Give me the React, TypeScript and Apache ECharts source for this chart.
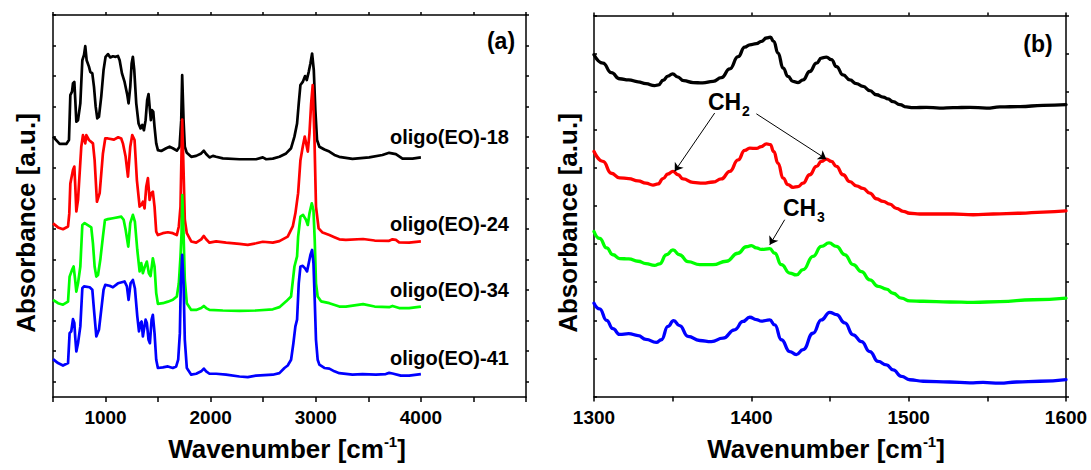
import React, { useEffect, useRef } from 'react';
import * as echarts from 'echarts';

// ---------- DATA ----------
const seriesNames = ['oligo(EO)-18', 'oligo(EO)-24', 'oligo(EO)-34', 'oligo(EO)-41'];
const seriesColors = ['#000000', '#ff0000', '#00ff00', '#0000ff'];

const leftTickLabels = [1000, 2000, 3000, 4000];
const rightTickLabels = [1300, 1400, 1500, 1600];
const leftYTicks = [0.5, 1.5, 2.5, 3.5, 4.5, 5.5, 6.5, 7.5, 8.5, 9.5, 10.5, 11.5, 12.5];

// Panel (a): full spectra, [wavenumber, absorbance (a.u., stacked)]
const eo18Full: [number, number][] = [
  [500, 8.52], [563, 8.28], [627, 8.28], [652, 8.41], [665, 9.88], [681, 9.99], [690, 10.26], [703, 10.31],
  [712, 9.72], [722, 9.01], [738, 9.06], [760, 9.61], [779, 11.02], [795, 11.19], [807, 11.48], [820, 11.02],
  [842, 10.81], [855, 10.64], [874, 10.59], [890, 10.15], [906, 9.5], [921, 9.12], [937, 9.17], [959, 9.83],
  [981, 10.7], [1000, 11.13], [1023, 11.22], [1045, 11.11], [1070, 11.15], [1096, 11.13], [1118, 11.16],
  [1134, 11.02], [1156, 10.59], [1181, 10.31], [1207, 9.88], [1219, 9.61], [1235, 10.15], [1248, 10.91],
  [1260, 11.13], [1273, 10.7], [1292, 9.61], [1314, 8.95], [1333, 8.79], [1349, 8.9], [1365, 8.73],
  [1381, 9.06], [1396, 9.72], [1409, 9.91], [1422, 9.39], [1431, 9.06], [1441, 9.39], [1454, 9.33],
  [1466, 8.84], [1482, 8.3], [1498, 8.08], [1530, 8.05], [1577, 8.14], [1609, 8.19], [1640, 8.14],
  [1678, 8.06], [1704, 8.19], [1720, 9.06], [1729, 10.53], [1742, 9.06], [1754, 8.19], [1773, 7.99],
  [1815, 7.86], [1862, 7.89], [1910, 7.97], [1935, 8.06], [1957, 7.95], [1989, 7.84], [2021, 7.89],
  [2052, 7.86], [2116, 7.81], [2274, 7.78], [2432, 7.78], [2496, 7.84], [2528, 7.78], [2591, 7.8],
  [2654, 7.86], [2718, 7.97], [2765, 8.14], [2797, 8.52], [2822, 8.95], [2838, 9.61], [2854, 10.21],
  [2876, 10.31], [2898, 10.5], [2914, 10.37], [2933, 10.64], [2949, 10.91], [2965, 11.24], [2981, 10.7],
  [2996, 9.39], [3012, 8.41], [3034, 8.19], [3082, 8.1], [3129, 8.03], [3177, 7.92], [3223, 7.86],
  [3349, 7.79], [3508, 7.84], [3634, 7.92], [3698, 7.99], [3762, 7.95], [3825, 7.8], [3920, 7.8], [4000, 7.84],
];

const eo24Full: [number, number][] = [
  [500, 5.68], [548, 5.55], [595, 5.49], [643, 5.58], [655, 6.0], [665, 6.99], [690, 7.43], [703, 7.54],
  [712, 6.9], [722, 6.07], [738, 6.45], [769, 8.19], [785, 8.57], [807, 8.3], [817, 8.57], [842, 8.41],
  [880, 8.3], [896, 7.75], [918, 6.39], [944, 6.67], [975, 7.97], [997, 8.46], [1023, 8.46], [1080, 8.42],
  [1120, 8.5], [1149, 8.46], [1165, 8.3], [1191, 7.86], [1213, 7.21], [1235, 8.19], [1254, 8.57],
  [1276, 8.41], [1298, 7.1], [1324, 6.23], [1340, 6.28], [1355, 6.39], [1371, 6.17], [1387, 6.88],
  [1403, 7.16], [1419, 6.45], [1434, 6.67], [1450, 6.72], [1466, 6.23], [1482, 5.41], [1498, 5.3],
  [1545, 5.36], [1593, 5.39], [1640, 5.36], [1678, 5.3], [1697, 5.58], [1713, 6.23], [1729, 9.08],
  [1742, 7.43], [1754, 5.8], [1773, 5.36], [1815, 5.09], [1862, 5.05], [1910, 5.16], [1935, 5.27],
  [1957, 5.16], [1989, 5.05], [2052, 5.09], [2147, 5.05], [2274, 5.01], [2353, 4.98], [2432, 5.03],
  [2496, 5.08], [2591, 5.05], [2654, 5.1], [2733, 5.25], [2781, 5.58], [2806, 6.01], [2832, 6.67],
  [2854, 7.75], [2876, 8.19], [2895, 8.52], [2908, 8.3], [2924, 8.03], [2940, 8.63], [2956, 9.61],
  [2971, 10.21], [2987, 8.52], [3002, 6.23], [3027, 5.52], [3065, 5.38], [3129, 5.3], [3177, 5.23],
  [3224, 5.16], [3286, 5.14], [3450, 5.17], [3560, 5.12], [3698, 5.11], [3730, 5.16], [3762, 5.14],
  [3793, 5.06], [3888, 5.05], [4000, 5.09],
];

const eo34Full: [number, number][] = [
  [500, 3.18], [548, 3.07], [595, 3.02], [643, 3.12], [658, 3.94], [681, 4.16], [696, 4.27], [709, 3.89],
  [722, 3.45], [738, 3.72], [760, 4.27], [779, 5.63], [801, 5.69], [842, 5.6], [864, 5.55], [880, 5.03],
  [896, 4.27], [912, 3.94], [928, 3.99], [950, 4.49], [975, 5.25], [994, 5.79], [1023, 5.82], [1070, 5.85],
  [1150, 5.9], [1172, 5.8], [1191, 5.47], [1216, 4.92], [1235, 5.69], [1260, 5.96], [1279, 5.74],
  [1302, 4.81], [1324, 4.11], [1340, 4.38], [1355, 4.05], [1374, 4.27], [1393, 4.43], [1412, 4.05],
  [1428, 3.96], [1450, 4.54], [1466, 4.27], [1482, 3.4], [1498, 3.05], [1545, 3.07], [1593, 3.12],
  [1640, 3.18], [1678, 3.29], [1697, 3.72], [1713, 4.6], [1723, 5.36], [1730, 6.61], [1742, 5.36],
  [1754, 3.83], [1773, 3.07], [1815, 2.85], [1862, 2.85], [1910, 2.91], [1935, 2.98], [1957, 2.91],
  [1989, 2.85], [2116, 2.83], [2274, 2.82], [2432, 2.83], [2591, 2.87], [2654, 2.94], [2718, 3.13],
  [2765, 3.29], [2797, 4.27], [2822, 4.6], [2832, 5.25], [2854, 5.9], [2879, 5.96], [2908, 5.79],
  [2924, 5.63], [2940, 6.01], [2962, 6.34], [2978, 6.12], [2990, 5.14], [3002, 3.72], [3018, 3.29],
  [3050, 3.13], [3129, 3.07], [3224, 2.96], [3286, 2.96], [3450, 3.04], [3560, 2.96], [3698, 2.94],
  [3730, 2.98], [3793, 2.91], [3888, 2.91], [4000, 2.96],
];

const eo41Full: [number, number][] = [
  [500, 1.24], [548, 1.11], [595, 1.03], [643, 1.11], [658, 2.09], [674, 2.15], [690, 2.55], [703, 2.42],
  [712, 1.93], [722, 1.49], [738, 1.76], [760, 2.31], [779, 3.56], [795, 3.62], [849, 3.59], [874, 3.51],
  [890, 2.85], [912, 1.98], [937, 2.2], [959, 2.85], [981, 3.51], [997, 3.67], [1038, 3.64], [1070, 3.59],
  [1118, 3.72], [1181, 3.78], [1203, 3.62], [1219, 3.18], [1238, 3.72], [1260, 3.83], [1279, 3.56],
  [1302, 2.64], [1318, 2.15], [1333, 2.42], [1343, 2.47], [1355, 1.98], [1365, 2.2], [1381, 2.53],
  [1393, 2.42], [1409, 1.87], [1422, 1.76], [1438, 2.53], [1450, 2.69], [1466, 2.09], [1482, 1.22],
  [1498, 0.95], [1545, 0.97], [1593, 1.0], [1640, 0.95], [1672, 1.0], [1691, 1.22], [1707, 2.09],
  [1716, 3.72], [1729, 4.65], [1742, 3.72], [1754, 1.87], [1773, 0.95], [1815, 0.73], [1862, 0.76],
  [1910, 0.84], [1935, 0.93], [1957, 0.84], [1989, 0.76], [2052, 0.76], [2147, 0.73], [2274, 0.67],
  [2353, 0.65], [2432, 0.7], [2591, 0.73], [2654, 0.78], [2702, 0.95], [2733, 1.03], [2765, 1.22],
  [2787, 1.76], [2806, 2.31], [2822, 2.53], [2838, 3.72], [2854, 4.27], [2876, 4.29], [2898, 4.21],
  [2917, 4.11], [2933, 4.38], [2949, 4.65], [2965, 4.81], [2978, 4.38], [2990, 3.18], [3002, 1.87],
  [3018, 1.22], [3034, 1.06], [3082, 0.95], [3129, 0.93], [3177, 0.84], [3224, 0.78], [3349, 0.73],
  [3445, 0.75], [3571, 0.73], [3666, 0.75], [3698, 0.79], [3730, 0.77], [3809, 0.7], [3888, 0.7], [4000, 0.75],
];

// Panel (b): 1300-1600 cm-1 detail
const eo18Zoom: [number, number][] = [
  [1300, 8.97], [1305.7, 8.75], [1311, 8.5], [1316.3, 8.34], [1322, 8.31], [1328, 8.26], [1333, 8.21],
  [1338.5, 8.16], [1341, 8.18], [1344, 8.3], [1347, 8.41], [1350, 8.47], [1353, 8.39], [1357, 8.29],
  [1363, 8.24], [1369, 8.23], [1375.7, 8.27], [1381, 8.37], [1386.3, 8.6], [1391.6, 8.92],
  [1395.8, 9.17], [1399, 9.23], [1403.2, 9.26], [1406.4, 9.32], [1409.6, 9.41], [1412.1, 9.43],
  [1414.2, 9.32], [1417, 9.01], [1420.2, 8.62], [1423.3, 8.4], [1426.5, 8.27], [1429.7, 8.24],
  [1432.9, 8.31], [1437.1, 8.53], [1441.4, 8.75], [1444.5, 8.88], [1447.7, 8.91], [1450.9, 8.84],
  [1454.1, 8.66], [1458.3, 8.44], [1462.6, 8.31], [1466.8, 8.21], [1471, 8.14], [1475.3, 8.03],
  [1479.5, 7.92], [1483.8, 7.86], [1486.9, 7.81], [1490.1, 7.74], [1494.4, 7.66], [1498.6, 7.6],
  [1502.8, 7.58], [1511.3, 7.59], [1519.8, 7.57], [1528.3, 7.58], [1538.9, 7.59], [1549.5, 7.57],
  [1558, 7.6], [1570.7, 7.61], [1585.5, 7.64], [1600, 7.66],
];

const eo24Zoom: [number, number][] = [
  [1300, 6.43], [1305.7, 6.17], [1311, 5.86], [1316.3, 5.74], [1322, 5.72], [1328, 5.66], [1333, 5.6],
  [1337.5, 5.55], [1340.7, 5.58], [1343.9, 5.72], [1347, 5.84], [1350.2, 5.91], [1353.4, 5.82],
  [1356.6, 5.71], [1362.9, 5.62], [1369.3, 5.6], [1375.7, 5.63], [1381, 5.71], [1386.3, 5.91],
  [1391.6, 6.21], [1395.8, 6.46], [1399, 6.52], [1403.2, 6.51], [1406.4, 6.56], [1409.6, 6.63],
  [1412.1, 6.61], [1414.2, 6.43], [1417, 6.12], [1420.2, 5.73], [1423.3, 5.56], [1426.5, 5.49],
  [1429.7, 5.51], [1432.9, 5.6], [1437.1, 5.82], [1441.4, 6.04], [1444.5, 6.17], [1447.7, 6.23],
  [1450.9, 6.17], [1454.1, 6.04], [1458.3, 5.82], [1462.6, 5.64], [1466.8, 5.53], [1471, 5.46],
  [1475.3, 5.34], [1479.5, 5.19], [1483.8, 5.12], [1488, 5.05], [1492.2, 4.94], [1496.5, 4.86],
  [1500.7, 4.81], [1507.1, 4.79], [1517.7, 4.79], [1528.3, 4.79], [1541, 4.77], [1553.7, 4.79],
  [1570.7, 4.81], [1585.5, 4.84], [1600, 4.87],
];

const eo34Zoom: [number, number][] = [
  [1300, 4.33], [1303.6, 4.15], [1308, 3.9], [1312, 3.72], [1316.3, 3.62], [1322, 3.61], [1328, 3.55],
  [1333, 3.49], [1338.5, 3.44], [1341.7, 3.48], [1346, 3.72], [1350.2, 3.85], [1354.4, 3.72],
  [1359.7, 3.54], [1367.2, 3.46], [1375.6, 3.46], [1384.1, 3.55], [1391.5, 3.76], [1396.8, 3.93],
  [1400, 3.96], [1403.2, 3.9], [1406.4, 3.86], [1411.7, 3.88], [1414.9, 3.76], [1419.1, 3.46],
  [1424.4, 3.24], [1428.6, 3.19], [1432.9, 3.33], [1439.2, 3.68], [1444.5, 3.94], [1449.4, 4.03],
  [1454.1, 3.94], [1459.4, 3.72], [1464.7, 3.46], [1470, 3.28], [1475.3, 3.06], [1480.6, 2.89],
  [1485.9, 2.82], [1490.1, 2.71], [1495.4, 2.58], [1500.7, 2.51], [1509.2, 2.5], [1526.1, 2.48],
  [1541, 2.47], [1557.9, 2.49], [1579.1, 2.54], [1600, 2.58],
];

const eo41Zoom: [number, number][] = [
  [1300, 2.45], [1303.6, 2.3], [1308, 2.0], [1312, 1.78], [1316.3, 1.63], [1322, 1.65], [1328, 1.6],
  [1333, 1.5], [1339.6, 1.42], [1342.8, 1.49], [1347, 1.84], [1350.6, 1.99], [1354.4, 1.86],
  [1359.7, 1.58], [1367.2, 1.47], [1374.6, 1.44], [1382, 1.53], [1389.4, 1.75], [1394.7, 1.97],
  [1399, 2.08], [1403.2, 2.02], [1406.4, 1.98], [1411.7, 2.01], [1414.9, 1.88], [1419.1, 1.49],
  [1424.4, 1.18], [1428.6, 1.1], [1432.9, 1.23], [1439.2, 1.66], [1444.5, 2.01], [1449.8, 2.21],
  [1454.1, 2.15], [1459.4, 1.93], [1464.7, 1.62], [1470, 1.44], [1475.3, 1.18], [1480.6, 0.92],
  [1485.9, 0.83], [1490.1, 0.7], [1495.4, 0.53], [1500.7, 0.44], [1509.2, 0.4], [1526.1, 0.38],
  [1538.9, 0.36], [1547.3, 0.37], [1557.9, 0.35], [1568.5, 0.38], [1583.4, 0.4], [1600, 0.44],
];

// Annotation arrows in panel (b): [fromX, fromY, toX, toY]
const ch2Arrows: number[][] = [
  [1376.7, 7.44, 1351.3, 5.91],
  [1403.2, 7.42, 1447.7, 6.23],
];
const ch3Arrows: number[][] = [[1421.2, 4.64, 1411.7, 3.98]];

const fullSeries = [eo18Full, eo24Full, eo34Full, eo41Full];
const zoomSeries = [eo18Zoom, eo24Zoom, eo34Zoom, eo41Zoom];

const FONT = "'Liberation Sans', Arial, Helvetica, sans-serif";

export default function App() {
  const ref = useRef<HTMLDivElement>(null);

  useEffect(() => {
    document.body.style.margin = '0';
    const chart = echarts.init(ref.current as HTMLDivElement, null, { renderer: 'svg' });

    const lineCol = { color: '#000', width: 1.5 };
    const xAxis = (grid: number, pos: string, min: number, max: number, interval: number, labels: number[] | null, tickLen: number) => ({
      type: 'value',
      gridIndex: grid,
      position: pos,
      min,
      max,
      interval,
      axisLine: { show: true, onZero: false, lineStyle: lineCol },
      axisTick: { show: true, inside: false, length: tickLen, lineStyle: lineCol },
      axisLabel: labels
        ? {
            show: true,
            customValues: labels,
            formatter: (v: number) => (labels.indexOf(v) >= 0 ? String(v) : ''),
            color: '#000',
            fontSize: 19,
            fontWeight: 'bold',
            fontFamily: FONT,
            margin: 11,
          }
        : { show: false },
      splitLine: { show: false },
    });
    const yAxis = (grid: number, pos: string, min: number, max: number, inside: boolean, ticks: number[] | null, interval?: number) => ({
      type: 'value',
      gridIndex: grid,
      position: pos,
      min,
      max,
      interval,
      axisLine: { show: true, onZero: false, lineStyle: lineCol },
      axisTick: ticks
        ? { show: true, inside, length: 3, customValues: ticks, lineStyle: lineCol }
        : { show: true, inside, length: 3, lineStyle: lineCol },
      axisLabel: { show: false },
      splitLine: { show: false },
    });

    const series: any[] = [];
    fullSeries.forEach((d, i) => {
      series.push({
        type: 'line',
        name: seriesNames[i],
        xAxisIndex: 0,
        yAxisIndex: 0,
        data: d,
        symbol: 'none',
        silent: true,
        lineStyle: { color: seriesColors[i], width: 2.7, join: 'round' },
        itemStyle: { color: seriesColors[i] },
        emphasis: { disabled: true },
      });
    });
    zoomSeries.forEach((d, i) => {
      const s: any = {
        type: 'line',
        name: seriesNames[i],
        xAxisIndex: 2,
        yAxisIndex: 2,
        data: d,
        symbol: 'none',
        silent: true,
        smooth: 0.5,
        smoothMonotone: 'x',
        lineStyle: { color: seriesColors[i], width: 3.3, join: 'round', cap: 'round' },
        itemStyle: { color: seriesColors[i] },
        emphasis: { disabled: true },
      };
      if (i === 1) {
        s.markLine = {
          silent: true,
          symbol: ['none', 'arrow'],
          symbolSize: 8,
          label: { show: false },
          emphasis: { disabled: true },
          lineStyle: { color: '#000', width: 1, type: 'solid' },
          data: ch2Arrows.concat(ch3Arrows).map((a) => [
            { coord: [a[0], a[1]] },
            { coord: [a[2], a[3]] },
          ]),
        };
      }
      series.push(s);
    });

    const boldText = (text: string, x: number, y: number, size: number, align = 'center', rotation = 0) => ({
      type: 'text',
      x,
      y,
      rotation,
      silent: true,
      style: {
        text,
        fill: '#000',
        fontSize: size,
        fontWeight: 'bold',
        fontFamily: FONT,
        align,
        verticalAlign: 'middle',
      },
    });
    const xTitle = (x: number) => ({
      type: 'text',
      x,
      y: 449,
      silent: true,
      style: {
        text: '{a|Wavenumber [cm}{b|-1}{a|]}',
        align: 'center',
        verticalAlign: 'middle',
        fill: '#000',
        rich: {
          a: { fontSize: 26, fontWeight: 'bold', fontFamily: FONT, lineHeight: 30, fill: '#000' },
          b: { fontSize: 15, fontWeight: 'bold', fontFamily: FONT, lineHeight: 15, verticalAlign: 'top', fill: '#000' },
        },
      },
    });

    const labelY = [136.7, 224.3, 290, 358.3];

    chart.setOption({
      animation: false,
      backgroundColor: '#ffffff',
      grid: [
        { left: 53, top: 15, width: 473, height: 382 },
        { left: 594, top: 15.5, width: 472, height: 381 },
      ],
      xAxis: [
        xAxis(0, 'bottom', 500, 5000, 500, leftTickLabels, 5),
        xAxis(0, 'top', 500, 5000, 500, null, 3),
        xAxis(1, 'bottom', 1300, 1600, 50, rightTickLabels, 5),
        xAxis(1, 'top', 1300, 1600, 50, null, 3),
      ],
      yAxis: [
        yAxis(0, 'left', 0, 12.5, true, leftYTicks),
        yAxis(0, 'right', 0, 12.5, false, leftYTicks),
        yAxis(1, 'left', 0, 10, true, null, 1),
        yAxis(1, 'right', 0, 10, false, null, 1),
      ],
      series,
      graphic: [
        boldText('(a)', 501, 41, 23),
        boldText('(b)', 1038, 44, 23),
        ...seriesNames.map((n, i) => boldText(n, 390, labelY[i], 20, 'left')),
        boldText('Absorbance [a.u.]', 26, 223, 26, 'center', Math.PI / 2),
        boldText('Absorbance [a.u.]', 568, 223, 26, 'center', Math.PI / 2),
        xTitle(287),
        xTitle(826),
        boldText('CH', 708, 102, 23, 'left'),
        boldText('2', 742, 111, 14, 'left'),
        boldText('CH', 783, 207.5, 23, 'left'),
        boldText('3', 817, 217, 14, 'left'),
      ],
    });

    return () => chart.dispose();
  }, []);

  return <div ref={ref} style={{ position: 'absolute', left: 0, top: 0, width: 1091, height: 470 }} />;
}
